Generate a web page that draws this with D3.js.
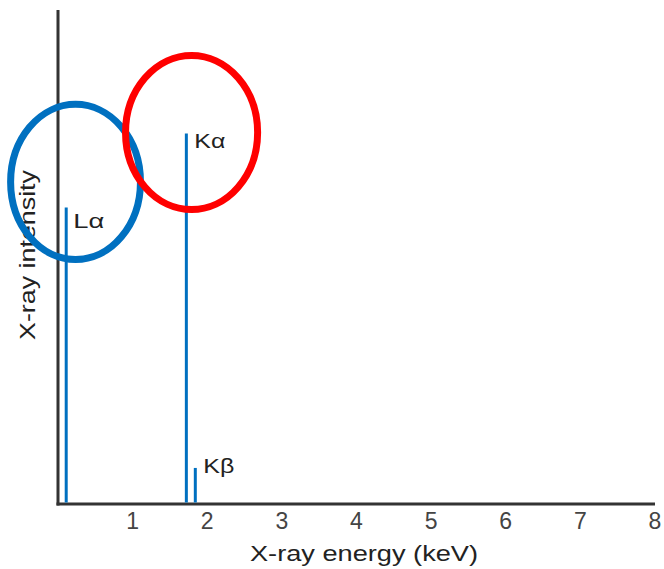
<!DOCTYPE html>
<html>
<head>
<meta charset="utf-8">
<script src="https://cdn.jsdelivr.net/npm/d3@7"></script>
<style>
  body { margin: 0; background: #fff; }
  svg { display: block; font-family: "Liberation Sans", Arial, sans-serif; }
</style>
</head>
<body>
<svg id="chart"></svg>
<script>
// peaks (energy in keV, relative intensity)
var peakNames = ["Lα", "Kα", "Kβ"];
var peakEnergy = [0.11, 1.72, 1.84];
var peakIntensity = [60, 75, 7.3];

var xTicks = [1, 2, 3, 4, 5, 6, 7, 8];

// highlight rings: centre (keV, intensity) and radii in the same units
var ringNames = ["L", "K"];
var ringX = [0.235, 1.79];
var ringY = [65.2, 75.2];
var ringRx = [0.87, 0.885];
var ringRy = [15.7, 15.6];

var width = 664, height = 569;
var svg = d3.select("#chart")
    .attr("width", width)
    .attr("height", height)

var x = d3.scaleLinear().domain([0, 8]).range([58, 655])
var y = d3.scaleLinear().domain([0, 100]).range([504, 10])

// axes lines
svg.append("line")
    .attr("x1", x(0)).attr("x2", x(0))
    .attr("y1", y(100)).attr("y2", y(0) + 1.5)
    .attr("stroke", "#333").attr("stroke-width", 3)
svg.append("line")
    .attr("x1", x(0) - 1.5).attr("x2", x(8))
    .attr("y1", y(0)).attr("y2", y(0))
    .attr("stroke", "#333").attr("stroke-width", 3)

svg.selectAll(".tick")
    .data(xTicks)
    .enter()
    .append("text")
        .attr("class", "tick")
        .attr("x", d => x(d))
        .attr("y", 529)
        .attr("text-anchor", "middle")
        .attr("font-size", 23)
        .attr("fill", "#444")
        .text(d => d)

svg.append("text")
    .attr("x", (250 + 478) / 2)
    .attr("y", 561)
    .attr("text-anchor", "middle")
    .attr("font-size", 22)
    .attr("fill", "#222")
    .attr("textLength", 228)
    .attr("lengthAdjust", "spacingAndGlyphs")
    .text("X-ray energy (keV)")

svg.append("text")
    .attr("transform", "translate(35,255) rotate(-90)")
    .attr("text-anchor", "middle")
    .attr("font-size", 22)
    .attr("fill", "#222")
    .attr("textLength", 170)
    .attr("lengthAdjust", "spacingAndGlyphs")
    .text("X-ray intensity")

var peaks = peakNames.map((n, i) => ({name: n, e: peakEnergy[i], v: peakIntensity[i]}))

svg.selectAll(".peak")
    .data(peaks)
    .enter()
    .append("line")
        .attr("class", "peak")
        .attr("x1", d => x(d.e)).attr("x2", d => x(d.e))
        .attr("y1", y(0) - 1.5).attr("y2", d => y(d.v))
        .attr("stroke", "#0070c0")
        .attr("stroke-width", 3)

// label offsets relative to the top of each line
var labelOff = {"Lα": [7, 20], "Kα": [8, 14], "Kβ": [8, 5]}
svg.selectAll(".plabel")
    .data(peaks)
    .enter()
    .append("text")
        .attr("class", "plabel")
        .attr("x", d => x(d.e) + labelOff[d.name][0])
        .attr("y", d => y(d.v) + labelOff[d.name][1])
        .attr("font-size", 21)
        .attr("fill", "#222")
        .attr("textLength", 31)
        .attr("lengthAdjust", "spacingAndGlyphs")
        .text(d => d.name)

var rings = ringNames.map((n, i) => ({name: n, cx: ringX[i], cy: ringY[i], rx: ringRx[i], ry: ringRy[i]}))
var ringColor = {"L": "#0070c0", "K": "#ff0000"}

svg.selectAll(".ring")
    .data(rings)
    .enter()
    .append("ellipse")
        .attr("class", "ring")
        .attr("cx", d => x(d.cx))
        .attr("cy", d => y(d.cy))
        .attr("rx", d => x(d.rx) - x(0))
        .attr("ry", d => y(0) - y(d.ry))
        .attr("fill", "none")
        .attr("stroke", d => ringColor[d.name])
        .attr("stroke-width", 7)
</script>
</body>
</html>
